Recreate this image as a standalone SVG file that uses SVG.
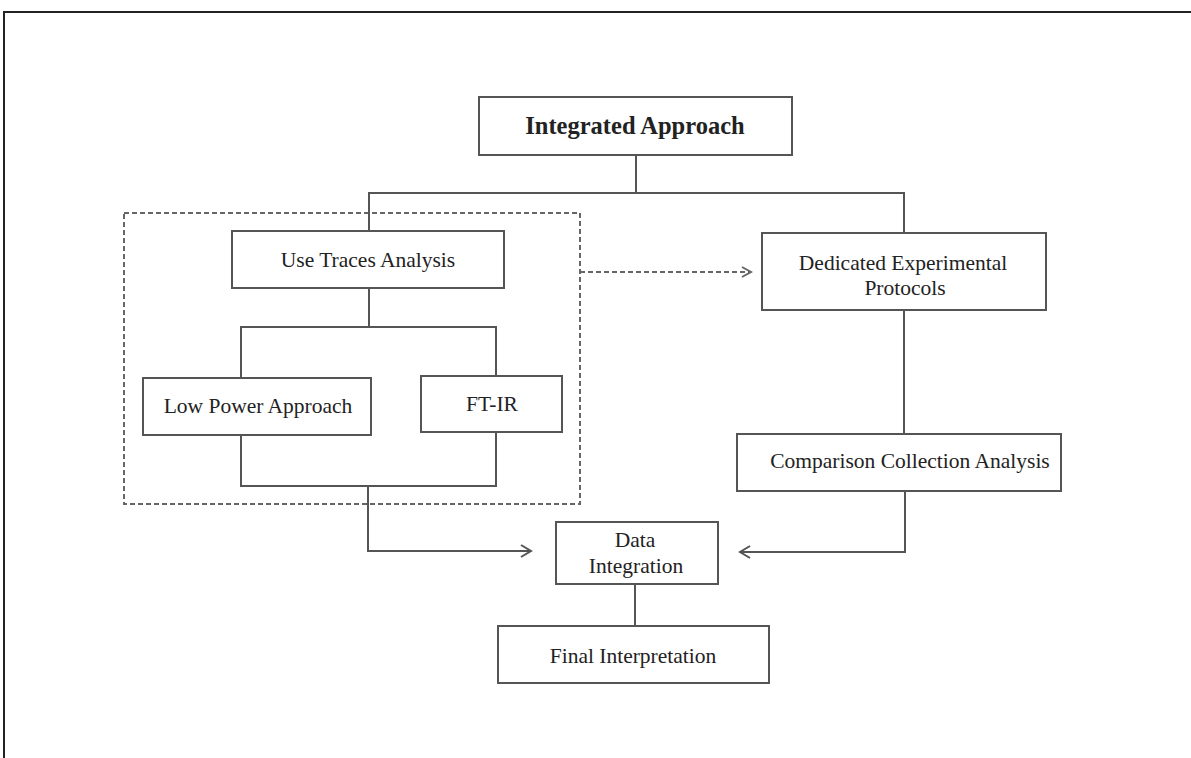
<svg xmlns="http://www.w3.org/2000/svg" width="1191" height="758" viewBox="0 0 1191 758">
<defs>
<style>
.box{fill:#fff;stroke:#555;stroke-width:2}
.t{font-family:"Liberation Serif","Times New Roman",serif;font-size:21.5px;fill:#222;text-anchor:middle}
.b{font-weight:bold;font-size:24.5px}
.ln{fill:none;stroke:#555;stroke-width:2}
.dash{fill:none;stroke:#666;stroke-width:2;stroke-dasharray:5 3}
</style>
<marker id="arr" markerWidth="14" markerHeight="14" refX="12" refY="7" orient="auto" markerUnits="userSpaceOnUse">
<path d="M2,1 L12,7 L2,13" fill="none" stroke="#555" stroke-width="2"/>
</marker>
<marker id="arrd" markerWidth="14" markerHeight="14" refX="12" refY="7" orient="auto" markerUnits="userSpaceOnUse">
<path d="M3,2 L12,7 L3,12" fill="none" stroke="#666" stroke-width="2"/>
</marker>
</defs>
<rect width="1191" height="758" fill="#fff"/>
<g id="frame">
<path d="M4,758 V12 H1191" fill="none" stroke="#222" stroke-width="2"/>
</g>
<g id="group-box">
<rect x="124" y="213" width="456" height="291" class="dash"/>
</g>
<g id="connectors">
<path class="ln" d="M636,155 V193 M369,233 V193 H904 V233"/>
<path class="ln" d="M369,288 V327 M241,378 V327 H496 V376"/>
<path class="ln" d="M241,435 V486 H496 V432"/>
<path class="ln" d="M368,486 V551 H531" marker-end="url(#arr)"/>
<path class="ln" d="M904,310 V434"/>
<path class="ln" d="M905,491 V552 H740" marker-end="url(#arr)"/>
<path class="ln" d="M635,584 V626"/>
<path class="dash" d="M580,272 H751" marker-end="url(#arrd)"/>
</g>
<g id="integrated">
<rect x="479" y="97" width="313" height="58" class="box"/>
<text x="635" y="134" class="t b">Integrated Approach</text>
</g>
<g id="use-traces">
<rect x="232" y="231" width="272" height="57" class="box"/>
<text x="368" y="267" class="t">Use Traces Analysis</text>
</g>
<g id="low-power">
<rect x="143" y="378" width="228" height="57" class="box"/>
<text x="258" y="413" class="t">Low Power Approach</text>
</g>
<g id="ftir">
<rect x="421" y="376" width="141" height="56" class="box"/>
<text x="492" y="411" class="t">FT-IR</text>
</g>
<g id="dedicated">
<rect x="762" y="233" width="284" height="77" class="box"/>
<text x="903" y="270" class="t">Dedicated Experimental</text>
<text x="905" y="295" class="t">Protocols</text>
</g>
<g id="comparison">
<rect x="737" y="434" width="324" height="57" class="box"/>
<text x="910" y="468" class="t">Comparison Collection Analysis</text>
</g>
<g id="data-integration">
<rect x="556" y="522" width="162" height="62" class="box"/>
<text x="635" y="547" class="t">Data</text>
<text x="636" y="573" class="t">Integration</text>
</g>
<g id="final">
<rect x="498" y="626" width="271" height="57" class="box"/>
<text x="633" y="663" class="t">Final Interpretation</text>
</g>
</svg>
